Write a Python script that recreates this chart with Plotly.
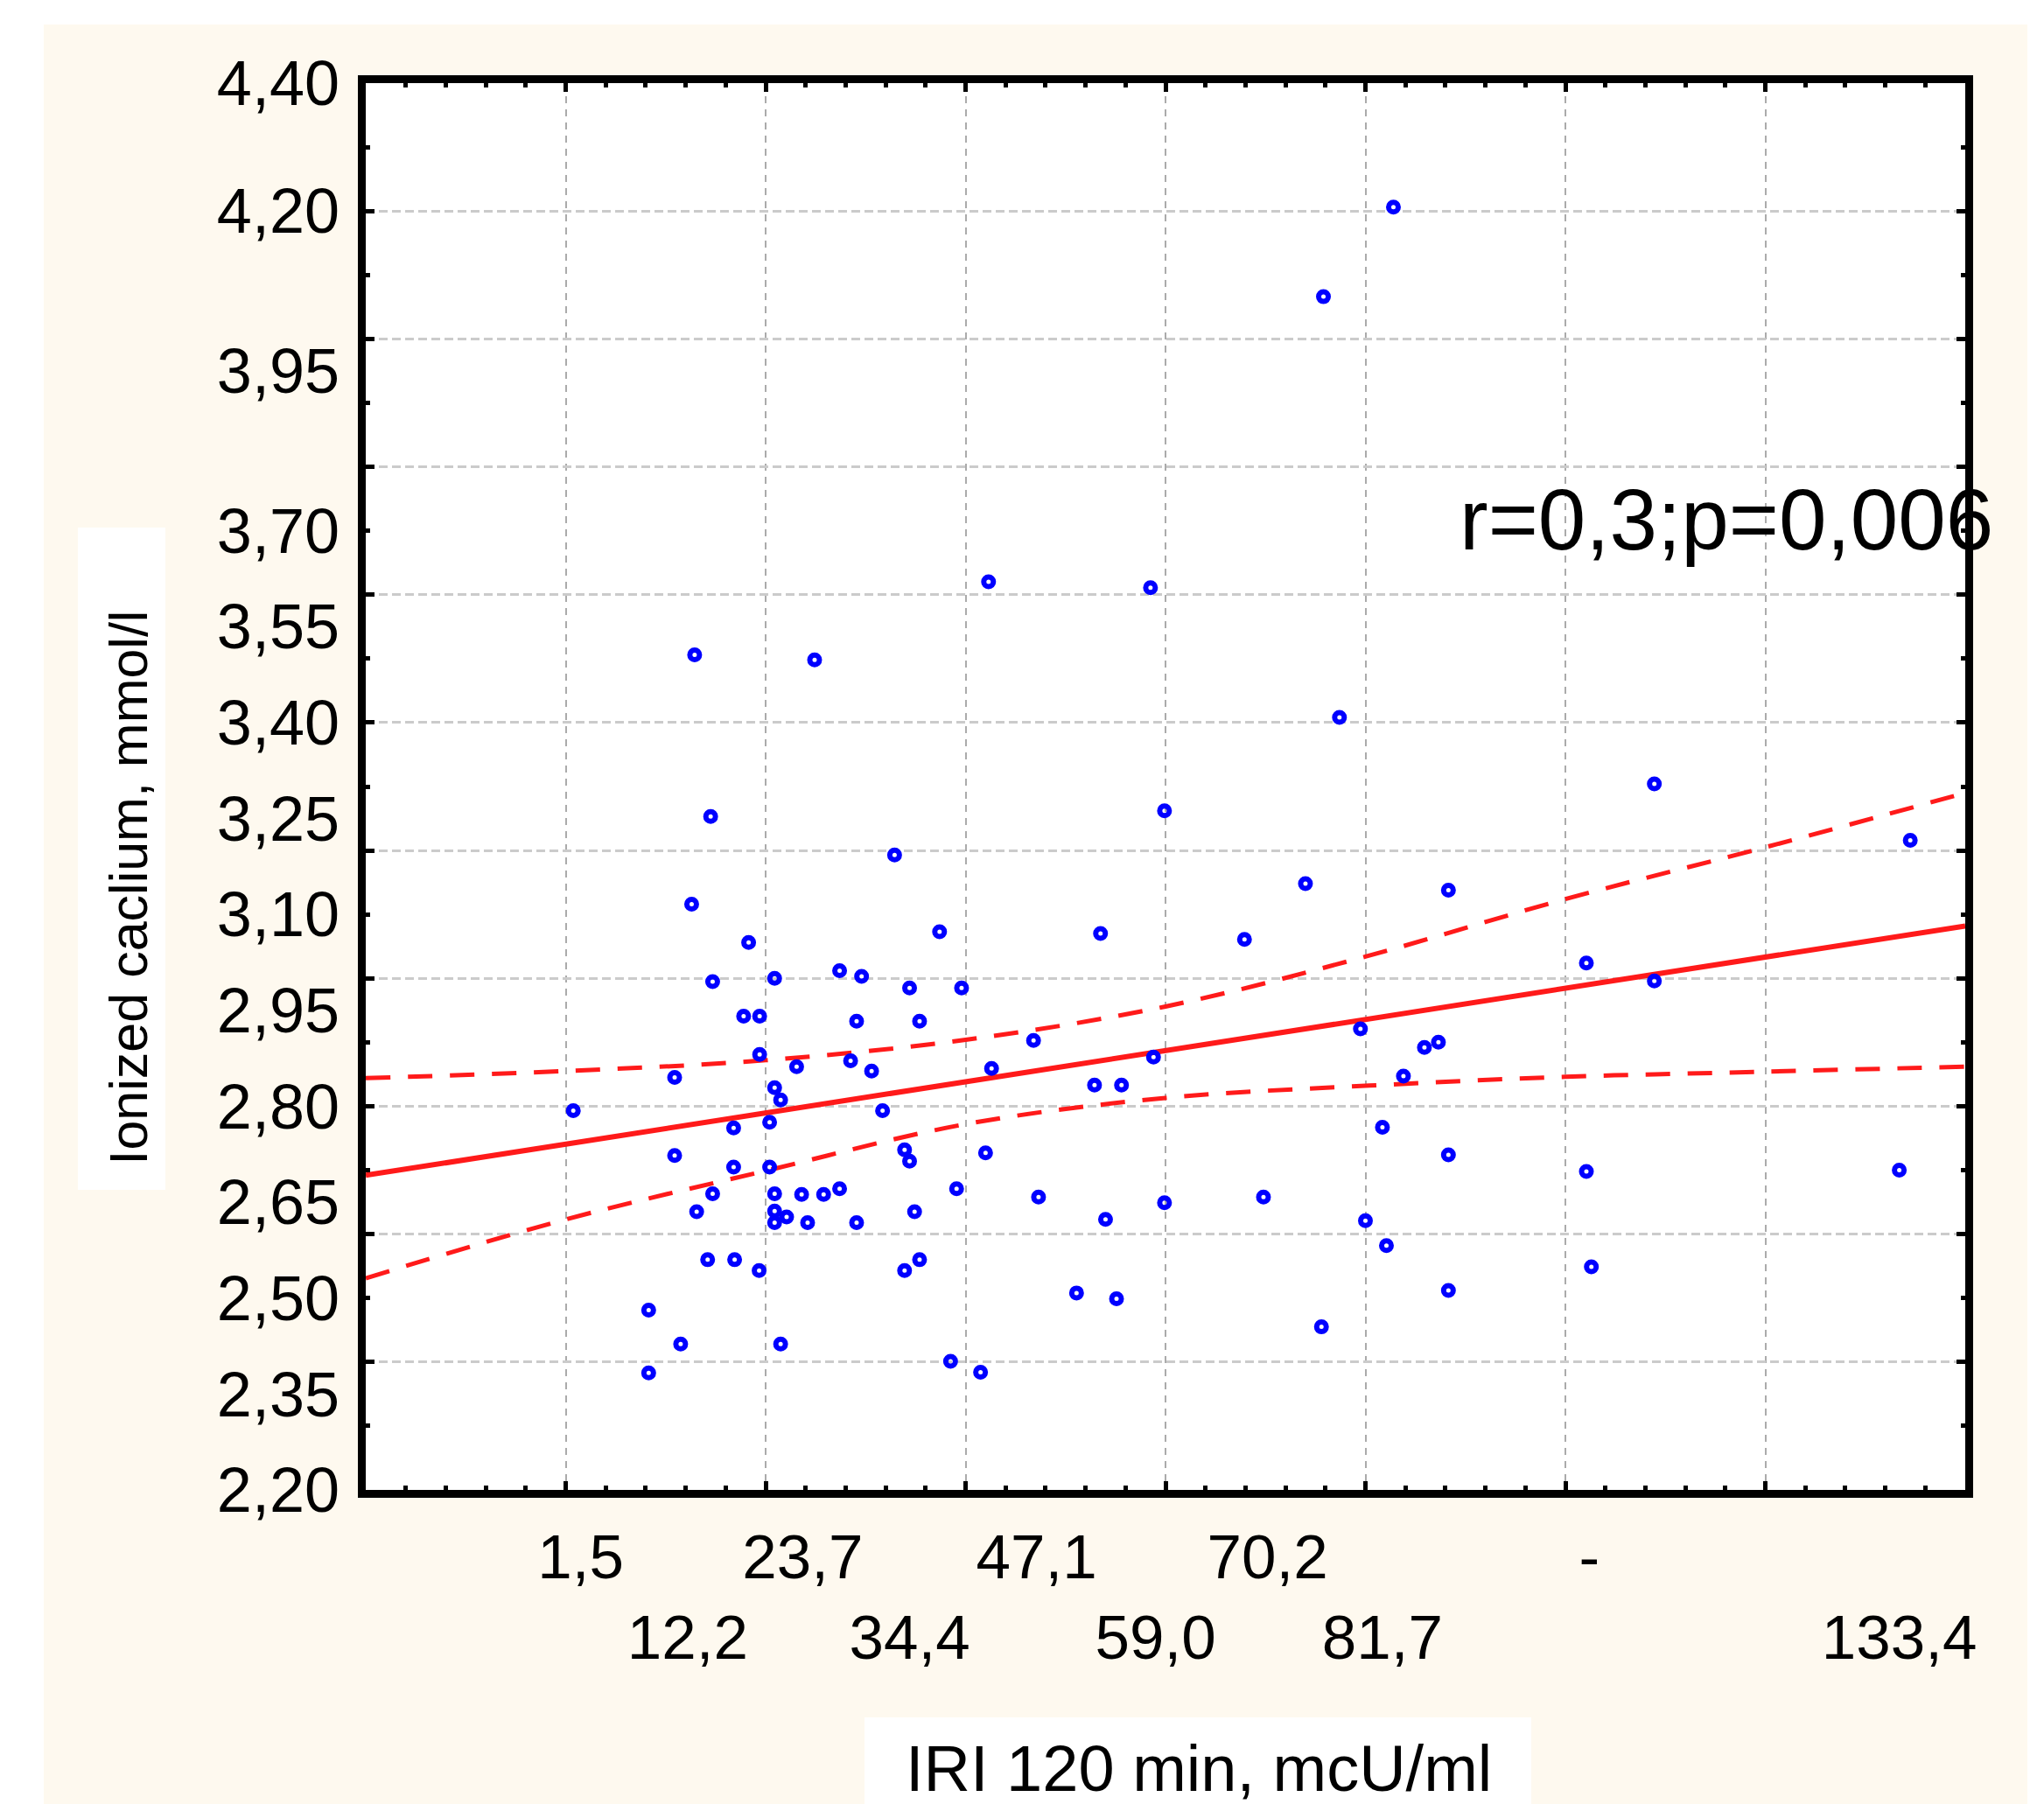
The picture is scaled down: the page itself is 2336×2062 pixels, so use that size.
import plotly.graph_objects as go

# ---------------- data ----------------
iri = [0.76, 8.3, 8.3, 10.9, 10.9, 11.5, 12.6, 12.9, 13.1, 14.2,
       14.5, 14.7, 14.7, 16.8, 16.8, 16.9, 17.8, 18.3, 19.4, 19.4,
       19.35, 20.4, 20.4, 20.9, 20.9, 20.9, 20.9, 20.9, 21.5, 21.5,
       22.1, 23.1, 23.6, 24.2, 24.9, 25.8, 27.4, 27.4, 28.5, 29.1,
       29.1, 29.6, 30.6, 31.7, 32.9, 33.9, 33.9, 34.4, 34.4, 34.9,
       35.4, 35.4, 37.4, 38.5, 39.1, 39.6, 41.5, 42.0, 42.3, 42.6,
       46.8, 47.3, 51.1, 52.9, 53.5, 54.0, 55.1, 55.6, 58.8, 58.5,
       59.9, 59.9, 67.9, 69.8, 74.0, 75.8, 75.6, 77.4, 79.5, 80.0,
       81.7, 82.1, 82.8, 83.8, 85.9, 87.3, 88.3, 88.3, 88.3, 102.1,
       102.1, 102.6, 108.9, 108.9, 133.4, 134.5]
calcium = [2.793, 2.481, 2.383, 2.845, 2.723, 2.428, 3.116, 3.506, 2.635, 2.560,
           3.253, 2.995, 2.663, 2.766, 2.705, 2.560, 2.941, 3.056, 2.941, 2.881,
           2.543, 2.775, 2.705, 3.000, 2.829, 2.663, 2.636, 2.618, 2.810, 2.428,
           2.627, 2.862, 2.662, 2.618, 3.498, 2.662, 2.671, 3.012, 2.871, 2.933,
           2.618, 3.003, 2.855, 2.793, 3.193, 2.732, 2.543, 2.985, 2.714, 2.635,
           2.933, 2.560, 3.073, 2.401, 2.671, 2.985, 2.384, 2.727, 3.620, 2.859,
           2.903, 2.658, 2.508, 2.833, 3.070, 2.623, 2.499, 2.833, 2.877, 3.611,
           3.262, 2.649, 3.061, 2.658, 3.148, 4.066, 2.455, 3.408, 2.921, 2.621,
           2.767, 2.582, 4.206, 2.847, 2.892, 2.900, 3.138, 2.724, 2.512, 3.024,
           2.698, 2.549, 3.304, 2.996, 2.700, 3.216]

fit_x = [-20, 140]
fit_y = [2.692, 3.082]

band_x = [-20, 0, 20, 40, 60, 80, 100, 120, 140]
band_upper = [2.844, 2.855, 2.872, 2.904, 2.956, 3.034, 3.124, 3.205, 3.290]
band_lower = [2.531, 2.623, 2.699, 2.772, 2.813, 2.832, 2.846, 2.854, 2.862]

x_tick_vals = [1.5, 12.2, 23.7, 34.4, 47.1, 59.0, 70.2, 81.7, 102.4, 133.4]
x_tick_text = ["1,5", "12,2", "23,7", "34,4", "47,1", "59,0", "70,2", "81,7", "-", "133,4"]
x_tick_row = [0, 1, 0, 1, 0, 1, 0, 1, 0, 1]

y_tick_vals = [2.20, 2.35, 2.50, 2.65, 2.80, 2.95, 3.10, 3.25, 3.40, 3.55, 3.70, 3.95, 4.20, 4.40]
y_tick_text = ["2,20", "2,35", "2,50", "2,65", "2,80", "2,95", "3,10", "3,25", "3,40",
               "3,55", "3,70", "3,95", "4,20", "4,40"]

x_title = "IRI 120 min, mcU/ml"
y_title = "Ionized caclium, mmol/l"
stat_text = "r=0,3;p=0,006"

# ---------------- layout geometry ----------------
W, H = 2336, 2062
L, R, T, B = 418, 90, 95, 359
PW, PH = W - L - R, H - T - B


def fx(px):
    return (px - L) / PW


def fy(py):
    return (H - B - py) / PH


FONT = "Liberation Sans, Arial, sans-serif"
RED = "#ff1a1a"

fig = go.Figure()

fig.add_trace(go.Scatter(x=band_x, y=band_upper, mode="lines",
                         line=dict(color=RED, width=5, dash="28px,20px", shape="spline"),
                         hoverinfo="skip"))
fig.add_trace(go.Scatter(x=band_x, y=band_lower, mode="lines",
                         line=dict(color=RED, width=5, dash="28px,20px", shape="spline"),
                         hoverinfo="skip"))
fig.add_trace(go.Scatter(x=fit_x, y=fit_y, mode="lines",
                         line=dict(color=RED, width=6), hoverinfo="skip"))
fig.add_trace(go.Scatter(x=iri, y=calcium, mode="markers",
                         marker=dict(symbol="circle-open", size=11, color="#0000ff",
                                     line=dict(width=6, color="#0000ff"))))
# carrier for the label axes
fig.add_trace(go.Scatter(x=[], y=[], xaxis="x2", yaxis="y2", hoverinfo="skip"))

x_labels = [("\u00a0<br>" + t) if r else t for t, r in zip(x_tick_text, x_tick_row)]

axis_common = dict(showline=True, linecolor="black", linewidth=9, mirror="allticks",
                   ticks="inside", tickcolor="black", tickwidth=5, ticklen=10,
                   showticklabels=False, zeroline=False, showgrid=True)

fig.update_layout(
    width=W, height=H,
    margin=dict(l=L, r=R, t=T, b=B, pad=0),
    paper_bgcolor="#FEF9EF", plot_bgcolor="white",
    showlegend=False,
    font=dict(family=FONT, color="black"),
    xaxis=dict(range=[-20, 140], tick0=0, dtick=20,
               gridcolor="#ababab", gridwidth=2, griddash="8px,7px",
               minor=dict(tick0=0, dtick=4, ticks="inside", ticklen=5, tickwidth=5,
                          tickcolor="black", showgrid=False),
               **axis_common),
    yaxis=dict(range=[2.2, 4.4], tick0=2.2, dtick=0.2,
               gridcolor="#cbcbcb", gridwidth=2.5, griddash="10px,5px",
               minor=dict(tick0=2.2, dtick=0.1, ticks="inside", ticklen=5, tickwidth=5,
                          tickcolor="black", showgrid=False),
               **axis_common),
    xaxis2=dict(overlaying="x", anchor="y", side="bottom", range=[-20, 140],
                tickmode="array", tickvals=x_tick_vals, ticktext=x_labels,
                ticks="", showgrid=False, zeroline=False, showline=False,
                tickfont=dict(size=71, family=FONT, color="black"),
                ticklabelstandoff=29, tickangle=0),
    yaxis2=dict(overlaying="y", anchor="x", side="left", range=[2.2, 4.4],
                tickmode="array", tickvals=y_tick_vals, ticktext=y_tick_text,
                ticks="", showgrid=False, zeroline=False, showline=False,
                tickfont=dict(size=72, family=FONT, color="black"),
                ticklabelstandoff=29),
)

shapes = [
    # white outer margins around the cream panel
    dict(x0=-1, x1=fx(50), y0=-1, y1=2),
    dict(x0=-1, x1=2, y0=fy(28), y1=2),
    dict(x0=fx(2317), x1=2, y0=-1, y1=2),
    # white boxes behind the axis titles
    dict(x0=fx(89), x1=fx(189), y0=fy(1360), y1=fy(603)),
    dict(x0=fx(988), x1=fx(1750), y0=-1, y1=fy(1963)),
]
for s in shapes:
    fig.add_shape(type="rect", xref="paper", yref="paper", layer="below",
                  fillcolor="white", line=dict(width=0), **s)

fig.add_annotation(xref="paper", yref="paper", x=fx(1666), y=fy(651),
                   xanchor="left", yanchor="bottom", showarrow=False,
                   text=stat_text, font=dict(size=98, family=FONT, color="black"))
fig.add_annotation(xref="paper", yref="paper", x=fx(1370), y=fy(2021),
                   xanchor="center", yanchor="middle", showarrow=False,
                   text=x_title, font=dict(size=74, family=FONT, color="black"))
fig.add_annotation(xref="paper", yref="paper", x=fx(146.5), y=fy(1015),
                   xanchor="center", yanchor="middle", showarrow=False, textangle=-90,
                   text=y_title, font=dict(size=61, family=FONT, color="black"))

fig.write_html("out.html", config={"displayModeBar": False},
               post_script="document.body.style.margin='0';")
